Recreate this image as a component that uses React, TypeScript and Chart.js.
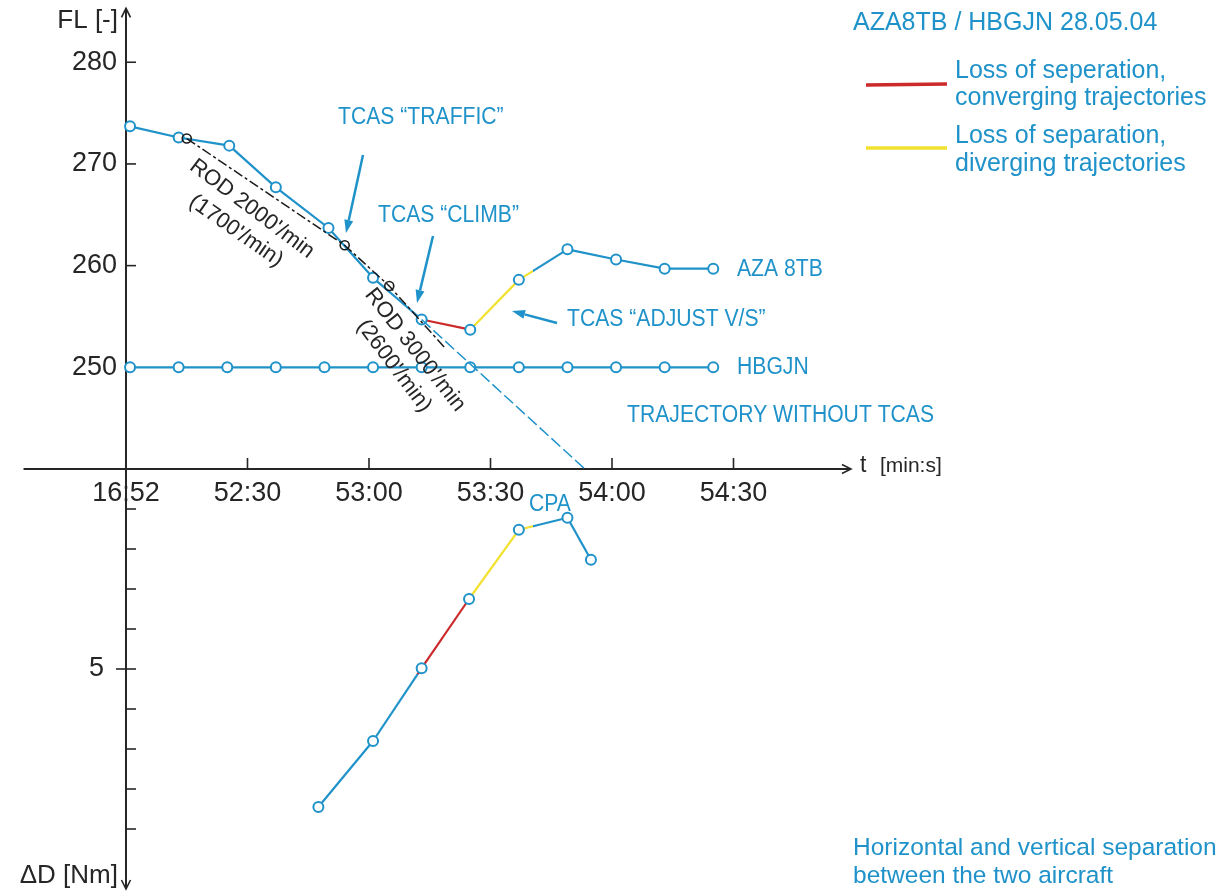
import React, { useEffect, useRef } from 'react';
import { Chart, registerables } from 'chart.js';

Chart.register(...registerables);

const BLUE = '#1f92c9';
const RED = '#cc2a2a';
const YELLOW = '#f2e12f';
const INK = '#262626';
const FONT = "'Liberation Sans', Arial, Helvetica, sans-serif";

// time axis: seconds after 16:52:00
const tickSeconds = [0, 30, 60, 90, 120, 150];
const tickLabels = ['16:52', '52:30', '53:00', '53:30', '54:00', '54:30'];
const flTicks = [250, 260, 270, 280];
const flTickLabels = ['250', '260', '270', '280'];
const distTicks = [1, 2, 3, 4, 5, 6, 7, 8, 9];
const distLabelTicks = [5];
const distLabels = ['5'];

// AZA 8TB flight level
const azaTime = [1, 13, 25.5, 37, 50, 61, 73, 85, 97, 109, 121, 133, 145];
const azaFL = [273.7, 272.6, 271.8, 267.7, 263.7, 258.8, 254.7, 253.7, 258.6, 261.6, 260.6, 259.7, 259.7];

// HBGJN flight level
const hbgTime = [1, 13, 25, 37, 49, 61, 73, 85, 97, 109, 121, 133, 145];
const hbgFL = [250, 250, 250, 250, 250, 250, 250, 250, 250, 250, 250, 250, 250];

// rate of descent reference line
const rodTime = [15, 54, 65, 79];
const rodFL = [272.5, 262.0, 258.0, 251.8];

// trajectory without TCAS
const noTcasTime = [73, 113.3];
const noTcasFL = [254.7, 240];

// horizontal separation ΔD [Nm]
const distTime = [47.5, 61, 73, 84.7, 97, 109, 114.8];
const distNm = [8.45, 6.8, 4.98, 3.25, 1.52, 1.22, 2.27];

// loss of separation phases (seconds)
const lossStart = 72;
const divergeStart = 85;
const lossEnd = 100.5;

const X_MIN = -31.11, X_MAX = 272.84;
const FL_MIN = 198.31, FL_MAX = 286.12;
const D_MIN = -11.725, D_MAX = 10.6;

function colorAt(t: number) {
  if (t < lossStart) return BLUE;
  if (t < divergeStart) return RED;
  if (t < lossEnd) return YELLOW;
  return BLUE;
}

function phaseSegment(times: number[]) {
  return (sc: any) => {
    const t0 = times[sc.p0DataIndex];
    const t1 = times[sc.p1DataIndex];
    const bounds = [lossStart, divergeStart, lossEnd].filter((b) => b > t0 && b < t1);
    if (!bounds.length) return colorAt((t0 + t1) / 2);
    const g = sc.chart.ctx.createLinearGradient(sc.p0.x, sc.p0.y, sc.p1.x, sc.p1.y);
    g.addColorStop(0, colorAt((t0 + bounds[0]) / 2));
    bounds.forEach((b, i) => {
      const f = (b - t0) / (t1 - t0);
      const prev = i === 0 ? t0 : bounds[i - 1];
      const next = i === bounds.length - 1 ? t1 : bounds[i + 1];
      g.addColorStop(f, colorAt((prev + b) / 2));
      g.addColorStop(f, colorAt((b + next) / 2));
    });
    g.addColorStop(1, colorAt((bounds[bounds.length - 1] + t1) / 2));
    return g;
  };
}

function txt(ctx: CanvasRenderingContext2D, s: string, x: number, y: number, size: number, color: string, opts: any = {}) {
  ctx.save();
  ctx.translate(x, y);
  if (opts.rot) ctx.rotate((opts.rot * Math.PI) / 180);
  ctx.scale(opts.sx ?? 1, 1);
  ctx.font = `${size}px ${FONT}`;
  ctx.fillStyle = color;
  ctx.textAlign = opts.align ?? 'left';
  ctx.textBaseline = 'middle';
  ctx.fillText(s, 0, 0);
  ctx.restore();
}

function line(ctx: CanvasRenderingContext2D, x1: number, y1: number, x2: number, y2: number, color: string, w: number) {
  ctx.save();
  ctx.strokeStyle = color;
  ctx.lineWidth = w;
  ctx.beginPath();
  ctx.moveTo(x1, y1);
  ctx.lineTo(x2, y2);
  ctx.stroke();
  ctx.restore();
}

function arrow(ctx: CanvasRenderingContext2D, x1: number, y1: number, x2: number, y2: number) {
  const a = Math.atan2(y2 - y1, x2 - x1);
  const L = 13, W = 4.5;
  const bx = x2 - L * Math.cos(a), by = y2 - L * Math.sin(a);
  line(ctx, x1, y1, bx, by, BLUE, 2.5);
  ctx.save();
  ctx.fillStyle = BLUE;
  ctx.beginPath();
  ctx.moveTo(x2, y2);
  ctx.lineTo(bx + W * Math.sin(a), by - W * Math.cos(a));
  ctx.lineTo(bx - W * Math.sin(a), by + W * Math.cos(a));
  ctx.closePath();
  ctx.fill();
  ctx.restore();
}

function openHead(ctx: CanvasRenderingContext2D, x: number, y: number, dx: number, dy: number) {
  const L = 9, W = 4.5;
  ctx.save();
  ctx.strokeStyle = INK;
  ctx.lineWidth = 1.6;
  ctx.beginPath();
  ctx.moveTo(x - L * dx + W * dy, y - L * dy - W * dx);
  ctx.lineTo(x, y);
  ctx.lineTo(x - L * dx - W * dy, y - L * dy + W * dx);
  ctx.stroke();
  ctx.restore();
}

const axesPlugin = {
  id: 'axesPlugin',
  beforeDatasetsDraw(chart: any) {
    const ctx: CanvasRenderingContext2D = chart.ctx;
    const xs = chart.scales.x, yf = chart.scales.yFL, yd = chart.scales.yD;
    const x0 = xs.getPixelForValue(0);
    const y0 = yf.getPixelForValue(240);
    const top = yf.getPixelForValue(285.3);
    const bottom = yd.getPixelForValue(10.5);
    const left = xs.getPixelForValue(-25.3);
    const right = xs.getPixelForValue(179);

    tickSeconds.forEach((s, i) => {
      txt(ctx, tickLabels[i], xs.getPixelForValue(s), y0 + 25, 27, INK, { align: 'center' });
    });

    line(ctx, x0, top, x0, bottom, INK, 2);
    line(ctx, left, y0, right, y0, INK, 2);
    openHead(ctx, x0, top, 0, -1);
    openHead(ctx, x0, bottom, 0, 1);
    openHead(ctx, right, y0, 1, 0);

    tickSeconds.forEach((s) => {
      if (s === 0) return;
      const px = xs.getPixelForValue(s);
      line(ctx, px, y0, px, y0 - 11, INK, 1.6);
    });
    flTicks.forEach((v, i) => {
      const py = yf.getPixelForValue(v);
      line(ctx, x0, py, x0 + 10, py, INK, 1.6);
      txt(ctx, flTickLabels[i], x0 - 9, py, 27, INK, { align: 'right' });
    });
    distTicks.forEach((v) => {
      const py = yd.getPixelForValue(v);
      const big = distLabelTicks.includes(v);
      line(ctx, big ? x0 - 10 : x0, py, x0 + 10, py, INK, 1.6);
    });
    distLabelTicks.forEach((v, i) => {
      txt(ctx, distLabels[i], x0 - 22, yd.getPixelForValue(v), 27, INK, { align: 'right' });
    });

    txt(ctx, 'FL [-]', x0 - 8, 21, 26, INK, { align: 'right' });
    txt(ctx, '\u0394D [Nm]', x0 - 8, 876, 26, INK, { align: 'right' });
    txt(ctx, 't', right + 9, y0 - 3, 23, INK);
    txt(ctx, '[min:s]', right + 29, y0 - 3, 21, INK);
  },
};

const notesPlugin = {
  id: 'notesPlugin',
  afterDatasetsDraw(chart: any) {
    const ctx: CanvasRenderingContext2D = chart.ctx;
    txt(ctx, 'AZA8TB / HBGJN 28.05.04', 853, 23, 25, BLUE);
    line(ctx, 866, 85, 947, 84, RED, 3.5);
    line(ctx, 866, 148, 947, 148, YELLOW, 3.5);
    txt(ctx, 'Loss of seperation,', 955, 71, 25, BLUE);
    txt(ctx, 'converging trajectories', 955, 98, 25, BLUE);
    txt(ctx, 'Loss of separation,', 955, 136, 25, BLUE);
    txt(ctx, 'diverging trajectories', 955, 164, 25, BLUE);
    txt(ctx, 'Horizontal and vertical separation', 853, 848, 24.5, BLUE);
    txt(ctx, 'between the two aircraft', 853, 876, 24.5, BLUE);

    const S = 0.9;
    txt(ctx, 'TCAS \u201CTRAFFIC\u201D', 338, 118, 23.5, BLUE, { sx: S });
    txt(ctx, 'TCAS \u201CCLIMB\u201D', 378, 216, 23.5, BLUE, { sx: S });
    txt(ctx, 'AZA 8TB', 737, 270, 23.5, BLUE, { sx: S });
    txt(ctx, 'TCAS \u201CADJUST V/S\u201D', 567, 320, 23.5, BLUE, { sx: S });
    txt(ctx, 'HBGJN', 737, 368, 23.5, BLUE, { sx: S });
    txt(ctx, 'TRAJECTORY WITHOUT TCAS', 627, 416, 23.5, BLUE, { sx: S });
    txt(ctx, 'CPA', 529, 505, 23.5, BLUE, { sx: S });

    arrow(ctx, 363, 155, 346, 233);
    arrow(ctx, 433, 236, 417, 303);
    arrow(ctx, 557, 323, 512, 311);

    txt(ctx, "ROD 2000'/min", 252, 209, 22, INK, { align: 'center', rot: 37 });
    txt(ctx, "(1700'/min)", 236, 231, 22, INK, { align: 'center', rot: 35 });
    txt(ctx, "ROD 3000'/min", 415, 350, 22, INK, { align: 'center', rot: 52 });
    txt(ctx, "(2600'/min)", 394, 366, 22, INK, { align: 'center', rot: 53 });
  },
};

const pts = (t: number[], v: number[]) => t.map((x, i) => ({ x, y: v[i] }));

export default function App() {
  const ref = useRef<HTMLCanvasElement | null>(null);

  useEffect(() => {
    if (!ref.current) return;
    const marker = {
      pointRadius: 5,
      pointBorderWidth: 2,
      pointBackgroundColor: '#ffffff',
      pointBorderColor: BLUE,
    };
    const chart = new Chart(ref.current, {
      type: 'line',
      data: {
        datasets: [
          {
            label: 'Trajectory without TCAS',
            data: pts(noTcasTime, noTcasFL),
            yAxisID: 'yFL',
            borderColor: BLUE,
            borderWidth: 1.5,
            borderDash: [12, 4],
            pointRadius: 0,
          },
          {
            label: 'ROD',
            data: pts(rodTime, rodFL),
            yAxisID: 'yFL',
            borderColor: '#1a1a1a',
            borderWidth: 1.5,
            borderDash: [10, 3, 3, 3],
            pointRadius: [4.5, 4.5, 4.5, 0],
            pointBorderWidth: 1.6,
            pointBackgroundColor: 'rgba(255,255,255,0)',
            pointBorderColor: '#1a1a1a',
          },
          {
            label: 'HBGJN',
            data: pts(hbgTime, hbgFL),
            yAxisID: 'yFL',
            borderColor: BLUE,
            borderWidth: 2.2,
            ...marker,
          },
          {
            label: 'AZA 8TB',
            data: pts(azaTime, azaFL),
            yAxisID: 'yFL',
            borderColor: BLUE,
            borderWidth: 2.2,
            segment: { borderColor: phaseSegment(azaTime) },
            ...marker,
          },
          {
            label: 'ΔD',
            data: pts(distTime, distNm),
            yAxisID: 'yD',
            borderColor: BLUE,
            borderWidth: 2.2,
            segment: { borderColor: phaseSegment(distTime) },
            ...marker,
          },
        ],
      },
      options: {
        responsive: false,
        devicePixelRatio: 1,
        animation: false,
        events: [],
        layout: { padding: 0, autoPadding: false },
        plugins: { legend: { display: false }, tooltip: { enabled: false }, title: { display: false } },
        elements: { line: { tension: 0 } },
        scales: {
          x: { type: 'linear', min: X_MIN, max: X_MAX, display: false },
          yFL: { type: 'linear', position: 'left', min: FL_MIN, max: FL_MAX, display: false },
          yD: { type: 'linear', position: 'left', reverse: true, min: D_MIN, max: D_MAX, display: false },
        },
      } as any,
      plugins: [axesPlugin, notesPlugin],
    });
    return () => chart.destroy();
  }, []);

  return (
    <div style={{ position: 'absolute', left: 0, top: 0, width: 1231, height: 893, background: '#fff' }}>
      <canvas ref={ref} width={1231} height={893} style={{ display: 'block', width: 1231, height: 893 }} />
    </div>
  );
}
